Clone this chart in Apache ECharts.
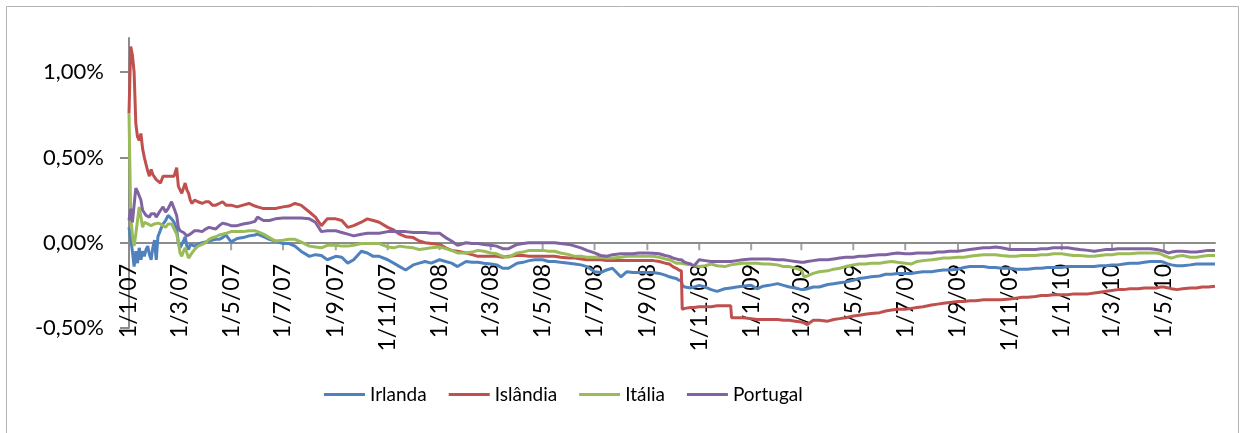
<!DOCTYPE html>
<html>
<head>
<meta charset="utf-8">
<script src="https://cdn.jsdelivr.net/npm/echarts@6/dist/echarts.min.js"></script>
<style>
  html, body { margin: 0; padding: 0; background: #ffffff; }
  #chart { width: 1245px; height: 433px; }
</style>
</head>
<body>
<div id="chart"></div>
<script>
// Observation dates (one line per month)
const dates = [
  '2007-01-01','2007-01-03','2007-01-05','2007-01-07','2007-01-09','2007-01-11','2007-01-13','2007-01-15','2007-01-17','2007-01-19','2007-01-21','2007-01-23','2007-01-25','2007-01-27','2007-01-29','2007-01-31',
  '2007-02-02','2007-02-04','2007-02-07','2007-02-10','2007-02-13','2007-02-16','2007-02-20','2007-02-23','2007-02-26','2007-02-28',
  '2007-03-02','2007-03-04','2007-03-06','2007-03-08','2007-03-10','2007-03-12','2007-03-14','2007-03-16','2007-03-19','2007-03-23','2007-03-28',
  '2007-04-01','2007-04-05','2007-04-09','2007-04-13','2007-04-17','2007-04-21','2007-04-25',
  '2007-05-01','2007-05-08','2007-05-15','2007-05-22','2007-05-29',
  '2007-06-01','2007-06-08','2007-06-15','2007-06-22',
  '2007-07-01','2007-07-08','2007-07-15','2007-07-22',
  '2007-08-01','2007-08-08','2007-08-15','2007-08-22',
  '2007-09-01','2007-09-08','2007-09-15','2007-09-22',
  '2007-10-01','2007-10-08','2007-10-15','2007-10-22',
  '2007-11-01','2007-11-08','2007-11-15','2007-11-22',
  '2007-12-01','2007-12-08','2007-12-15','2007-12-22',
  '2008-01-01','2008-01-08','2008-01-15','2008-01-22',
  '2008-02-01','2008-02-08','2008-02-15','2008-02-22',
  '2008-03-01','2008-03-08','2008-03-15','2008-03-22',
  '2008-04-01','2008-04-08','2008-04-15','2008-04-22',
  '2008-05-01','2008-05-08','2008-05-15','2008-05-22',
  '2008-06-01','2008-06-08','2008-06-15','2008-06-22',
  '2008-07-01','2008-07-08','2008-07-15','2008-07-22',
  '2008-08-01','2008-08-08','2008-08-15','2008-08-22',
  '2008-09-01','2008-09-08','2008-09-15','2008-09-22','2008-09-27',
  '2008-10-01','2008-10-05','2008-10-08','2008-10-11','2008-10-12','2008-10-15','2008-10-22','2008-10-26',
  '2008-11-01','2008-11-08','2008-11-15','2008-11-22',
  '2008-12-01','2008-12-08','2008-12-09','2008-12-15','2008-12-22',
  '2009-01-01','2009-01-08','2009-01-15','2009-01-22',
  '2009-02-01','2009-02-08','2009-02-15','2009-02-22',
  '2009-03-01','2009-03-04','2009-03-08','2009-03-15','2009-03-22',
  '2009-04-01','2009-04-08','2009-04-15','2009-04-22',
  '2009-05-01','2009-05-08','2009-05-15','2009-05-22',
  '2009-06-01','2009-06-08','2009-06-15','2009-06-22',
  '2009-07-01','2009-07-08','2009-07-15','2009-07-22',
  '2009-08-01','2009-08-08','2009-08-15','2009-08-22',
  '2009-09-01','2009-09-08','2009-09-15','2009-09-22',
  '2009-10-01','2009-10-08','2009-10-15','2009-10-22',
  '2009-11-01','2009-11-08','2009-11-15','2009-11-22',
  '2009-12-01','2009-12-08','2009-12-15','2009-12-22',
  '2010-01-01','2010-01-08','2010-01-15','2010-01-22',
  '2010-02-01','2010-02-08','2010-02-15','2010-02-22',
  '2010-03-01','2010-03-08','2010-03-15','2010-03-22',
  '2010-04-01','2010-04-08','2010-04-15','2010-04-22','2010-04-27',
  '2010-05-01','2010-05-06','2010-05-10','2010-05-16','2010-05-23',
  '2010-06-01','2010-06-08','2010-06-15','2010-06-22','2010-06-30'
];

// Values in percent
const irlanda = [
  0.09,0.02,-0.05,-0.14,-0.05,-0.12,-0.03,-0.10,-0.05,-0.08,-0.04,-0.02,-0.07,-0.10,-0.03,0.015,
  -0.10,0.035,0.075,0.11,0.13,0.16,0.14,0.12,0.08,0.00,
  -0.03,-0.04,0.01,0.035,-0.02,-0.04,-0.01,0.00,-0.02,-0.01,0.00,
  0.005,0.01,0.015,0.02,0.02,0.03,0.045,
  0.005,0.025,0.03,0.04,0.045,
  0.05,0.035,0.02,0.01,
  -0.005,-0.005,-0.02,-0.05,
  -0.08,-0.07,-0.075,-0.10,
  -0.08,-0.085,-0.12,-0.10,
  -0.05,-0.06,-0.08,-0.08,
  -0.10,-0.12,-0.14,-0.16,
  -0.13,-0.12,-0.11,-0.12,
  -0.10,-0.11,-0.12,-0.14,
  -0.11,-0.115,-0.115,-0.12,
  -0.125,-0.13,-0.15,-0.15,
  -0.12,-0.115,-0.105,-0.10,
  -0.10,-0.11,-0.11,-0.115,
  -0.12,-0.125,-0.13,-0.14,
  -0.17,-0.175,-0.16,-0.15,
  -0.20,-0.17,-0.175,-0.175,
  -0.175,-0.175,-0.18,-0.19,-0.20,
  -0.205,-0.21,-0.22,-0.22,-0.25,-0.26,-0.265,-0.26,
  -0.25,-0.26,-0.275,-0.285,
  -0.27,-0.265,-0.265,-0.26,-0.255,
  -0.25,-0.27,-0.255,-0.25,
  -0.24,-0.25,-0.26,-0.265,
  -0.275,-0.275,-0.27,-0.26,-0.26,
  -0.245,-0.24,-0.235,-0.23,
  -0.22,-0.21,-0.205,-0.20,
  -0.195,-0.185,-0.185,-0.18,
  -0.18,-0.18,-0.175,-0.17,
  -0.17,-0.165,-0.16,-0.16,
  -0.155,-0.145,-0.14,-0.14,
  -0.14,-0.145,-0.145,-0.15,
  -0.15,-0.155,-0.155,-0.155,
  -0.15,-0.15,-0.145,-0.145,
  -0.145,-0.14,-0.14,-0.14,
  -0.14,-0.14,-0.135,-0.135,
  -0.13,-0.13,-0.125,-0.12,
  -0.12,-0.115,-0.11,-0.11,-0.11,
  -0.115,-0.125,-0.13,-0.135,-0.135,
  -0.13,-0.125,-0.125,-0.125,-0.125
];

const islandia = [
  0.76,1.15,1.10,1.00,0.70,0.62,0.60,0.64,0.55,0.50,0.50,0.42,0.39,0.43,0.40,0.39,
  0.37,0.36,0.35,0.39,0.39,0.39,0.39,0.39,0.44,0.33,
  0.31,0.29,0.32,0.35,0.31,0.29,0.25,0.23,0.25,0.24,0.23,
  0.24,0.24,0.22,0.22,0.23,0.24,0.22,
  0.22,0.21,0.22,0.23,0.215,
  0.21,0.20,0.20,0.20,
  0.21,0.215,0.23,0.22,
  0.18,0.15,0.10,0.14,
  0.14,0.13,0.09,0.10,
  0.12,0.14,0.13,0.12,
  0.09,0.075,0.05,0.035,
  0.03,0.01,0.00,-0.005,
  -0.01,-0.03,-0.045,-0.05,
  -0.06,-0.07,-0.08,-0.08,
  -0.08,-0.08,-0.085,-0.08,
  -0.075,-0.075,-0.08,-0.08,
  -0.08,-0.08,-0.08,-0.085,
  -0.09,-0.09,-0.095,-0.10,
  -0.10,-0.10,-0.105,-0.105,
  -0.105,-0.105,-0.105,-0.105,
  -0.105,-0.105,-0.11,-0.12,-0.125,
  -0.14,-0.15,-0.16,-0.165,-0.39,-0.385,-0.38,-0.38,
  -0.375,-0.375,-0.375,-0.37,
  -0.37,-0.37,-0.44,-0.44,-0.44,
  -0.445,-0.45,-0.45,-0.45,
  -0.45,-0.455,-0.455,-0.46,
  -0.465,-0.47,-0.48,-0.455,-0.455,
  -0.46,-0.45,-0.445,-0.44,
  -0.43,-0.425,-0.42,-0.415,
  -0.41,-0.40,-0.395,-0.39,
  -0.39,-0.385,-0.38,-0.375,
  -0.365,-0.36,-0.355,-0.35,
  -0.345,-0.345,-0.34,-0.34,
  -0.335,-0.335,-0.335,-0.335,
  -0.33,-0.325,-0.32,-0.32,
  -0.315,-0.31,-0.31,-0.305,
  -0.305,-0.305,-0.30,-0.30,
  -0.30,-0.295,-0.29,-0.285,
  -0.28,-0.275,-0.275,-0.27,
  -0.27,-0.265,-0.265,-0.265,-0.26,
  -0.26,-0.265,-0.27,-0.275,-0.27,
  -0.265,-0.265,-0.26,-0.26,-0.255
];

const italia = [
  0.76,0.15,0.05,-0.02,0.05,0.13,0.21,0.15,0.09,0.12,0.13,0.11,0.10,0.10,0.11,0.11,
  0.12,0.115,0.11,0.10,0.09,0.11,0.11,0.08,0.05,0.00,
  -0.06,-0.08,-0.05,-0.03,-0.06,-0.09,-0.10,-0.06,-0.04,-0.02,-0.01,
  0.00,0.02,0.03,0.035,0.045,0.05,0.055,
  0.065,0.065,0.065,0.07,0.07,
  0.065,0.05,0.03,0.01,
  0.015,0.02,0.02,0.005,
  -0.02,-0.025,-0.03,-0.015,
  -0.015,-0.02,-0.02,-0.015,
  -0.005,-0.005,-0.005,-0.005,
  -0.025,-0.03,-0.02,-0.025,
  -0.03,-0.04,-0.035,-0.03,
  -0.025,-0.035,-0.045,-0.06,
  -0.06,-0.055,-0.045,-0.05,
  -0.06,-0.065,-0.08,-0.085,
  -0.06,-0.055,-0.045,-0.045,
  -0.045,-0.05,-0.05,-0.06,
  -0.07,-0.08,-0.08,-0.085,
  -0.085,-0.085,-0.09,-0.09,
  -0.085,-0.08,-0.08,-0.08,
  -0.08,-0.08,-0.085,-0.095,-0.10,
  -0.11,-0.12,-0.12,-0.12,-0.12,-0.125,-0.13,-0.135,
  -0.14,-0.135,-0.125,-0.135,
  -0.14,-0.13,-0.13,-0.125,-0.12,
  -0.12,-0.12,-0.125,-0.125,
  -0.13,-0.14,-0.14,-0.15,
  -0.16,-0.20,-0.195,-0.18,-0.17,
  -0.165,-0.155,-0.15,-0.14,
  -0.13,-0.125,-0.125,-0.12,
  -0.12,-0.115,-0.11,-0.115,
  -0.12,-0.125,-0.11,-0.105,
  -0.10,-0.095,-0.09,-0.09,
  -0.085,-0.085,-0.08,-0.075,
  -0.07,-0.07,-0.07,-0.075,
  -0.08,-0.08,-0.075,-0.075,
  -0.075,-0.07,-0.07,-0.065,
  -0.065,-0.07,-0.075,-0.075,
  -0.08,-0.08,-0.075,-0.07,
  -0.07,-0.065,-0.065,-0.065,
  -0.06,-0.06,-0.06,-0.06,-0.065,
  -0.075,-0.085,-0.09,-0.08,-0.075,
  -0.085,-0.085,-0.08,-0.075,-0.075
];

const portugal = [
  0.13,0.20,0.12,0.22,0.32,0.30,0.29,0.25,0.19,0.18,0.16,0.16,0.15,0.17,0.16,0.17,
  0.15,0.16,0.19,0.21,0.18,0.20,0.24,0.20,0.16,0.09,
  0.07,0.065,0.06,0.05,0.04,0.035,0.05,0.06,0.07,0.07,0.065,
  0.08,0.09,0.085,0.08,0.10,0.115,0.11,
  0.10,0.10,0.11,0.115,0.125,
  0.15,0.13,0.13,0.14,
  0.145,0.145,0.145,0.145,
  0.14,0.12,0.065,0.07,
  0.07,0.06,0.05,0.04,
  0.05,0.055,0.055,0.055,
  0.065,0.065,0.065,0.065,
  0.06,0.06,0.06,0.055,
  0.055,0.03,0.01,-0.015,
  0.00,-0.005,-0.005,-0.01,
  -0.015,-0.02,-0.035,-0.035,
  -0.01,-0.005,0.00,0.00,
  0.00,0.00,0.00,-0.005,
  -0.01,-0.02,-0.03,-0.045,
  -0.06,-0.075,-0.08,-0.07,
  -0.065,-0.065,-0.065,-0.06,
  -0.06,-0.062,-0.065,-0.075,-0.08,
  -0.09,-0.095,-0.10,-0.10,-0.105,-0.115,-0.125,-0.135,
  -0.10,-0.105,-0.11,-0.11,
  -0.11,-0.11,-0.11,-0.105,-0.10,
  -0.095,-0.095,-0.095,-0.095,
  -0.10,-0.10,-0.105,-0.11,
  -0.115,-0.115,-0.11,-0.105,-0.10,
  -0.10,-0.095,-0.09,-0.085,
  -0.085,-0.08,-0.08,-0.075,
  -0.07,-0.07,-0.065,-0.06,
  -0.065,-0.065,-0.06,-0.06,
  -0.06,-0.055,-0.055,-0.05,
  -0.05,-0.045,-0.04,-0.035,
  -0.03,-0.03,-0.025,-0.03,
  -0.04,-0.04,-0.04,-0.04,
  -0.04,-0.035,-0.035,-0.03,
  -0.03,-0.03,-0.035,-0.04,
  -0.045,-0.05,-0.045,-0.04,
  -0.04,-0.035,-0.035,-0.035,
  -0.035,-0.035,-0.035,-0.04,-0.045,
  -0.05,-0.06,-0.055,-0.05,-0.05,
  -0.055,-0.055,-0.05,-0.045,-0.045
];

const seriesNames = ['Irlanda', 'Islândia', 'Itália', 'Portugal'];
const seriesValues = [irlanda, islandia, italia, portugal];
const seriesColors = ['#4F81BD', '#C0504D', '#9BBB59', '#8064A2'];

// Axis tick labels
const xTickLabels = [
  '1/1/07','1/3/07','1/5/07','1/7/07','1/9/07','1/11/07',
  '1/1/08','1/3/08','1/5/08','1/7/08','1/9/08','1/11/08',
  '1/1/09','1/3/09','1/5/09','1/7/09','1/9/09','1/11/09',
  '1/1/10','1/3/10','1/5/10'
];
const yTickValues = [-0.5, 0, 0.5, 1.0];

const FONT = 'Lato, "Noto Sans", sans-serif';
const AXIS_GRAY = '#8c8c8c';

function isoToTime(s) {
  const p = s.split('-').map(Number);
  return new Date(p[0], p[1] - 1, p[2]).getTime();
}
function tickToTime(s) {
  const p = s.split('/').map(Number);
  return new Date(2000 + p[2], p[1] - 1, p[0]).getTime();
}
function timeToTick(t) {
  const d = new Date(t);
  return d.getDate() + '/' + (d.getMonth() + 1) + '/' + String(d.getFullYear()).slice(2);
}

const xTickTimes = xTickLabels.map(tickToTime);
const times = dates.map(isoToTime);

const chart = echarts.init(document.getElementById('chart'), null, { renderer: 'canvas' });

const lineSeries = seriesNames.map(function (name, i) {
  return {
    name: name,
    type: 'line',
    showSymbol: false,
    symbol: 'none',
    color: seriesColors[i],
    lineStyle: { color: seriesColors[i], width: 3 },
    emphasis: { disabled: true },
    z: 3,
    data: times.map(function (t, k) { return [t, seriesValues[i][k]]; })
  };
});

// Tick marks hanging below the zero line, one per date label
const zeroTicks = {
  name: 'ticks',
  type: 'scatter',
  silent: true,
  symbol: 'rect',
  symbolSize: [2, 7],
  symbolOffset: [0, 4],
  itemStyle: { color: AXIS_GRAY },
  z: 1,
  data: xTickTimes.map(function (t) { return [t, 0]; })
};

chart.setOption({
  animation: false,
  backgroundColor: '#ffffff',
  textStyle: { fontFamily: FONT },
  graphic: [{
    type: 'rect',
    silent: true,
    shape: { x: 6.5, y: 6.5, width: 1232, height: 440 },
    style: { fill: 'none', stroke: '#b3b3b3', lineWidth: 1 }
  }],
  grid: { left: 129, right: 30, top: 38, bottom: 105, containLabel: false },
  legend: {
    data: seriesNames,
    left: 324,
    top: 385,
    padding: 0,
    itemGap: 22,
    itemWidth: 41,
    itemHeight: 3,
    icon: 'rect',
    textStyle: { fontFamily: FONT, fontSize: 19, color: '#000000' }
  },
  xAxis: {
    // timestamps on a linear scale, labels on the first day of every other month
    type: 'value',
    min: isoToTime('2007-01-01'),
    max: isoToTime('2010-06-30'),
    axisLine: { show: true, onZero: true, lineStyle: { color: AXIS_GRAY, width: 2 } },
    axisTick: { show: false },
    axisLabel: {
      customValues: xTickTimes,
      rotate: 90,
      margin: -64,
      fontFamily: FONT,
      fontSize: 23,
      color: '#000000',
      formatter: function (v) { return timeToTick(v); }
    },
    splitLine: { show: false }
  },
  yAxis: {
    type: 'value',
    min: -0.5,
    max: 1.2,
    interval: 0.5,
    axisLine: { show: true, lineStyle: { color: AXIS_GRAY, width: 2 } },
    axisTick: { show: true, length: 9, customValues: yTickValues, lineStyle: { color: AXIS_GRAY, width: 2 } },
    axisLabel: {
      customValues: yTickValues,
      margin: 25,
      fontFamily: FONT,
      fontSize: 22,
      color: '#000000',
      formatter: function (v) { return v.toFixed(2).replace('.', ',') + '%'; }
    },
    splitLine: { show: false }
  },
  series: [zeroTicks].concat(lineSeries)
});
</script>
</body>
</html>
